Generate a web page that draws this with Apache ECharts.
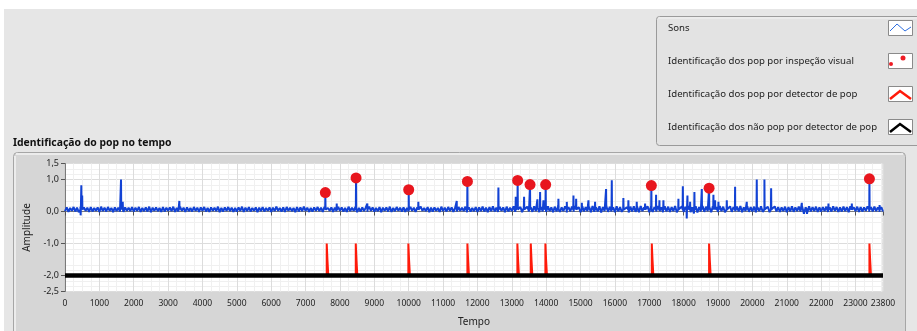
<!DOCTYPE html>
<html>
<head>
<meta charset="utf-8">
<script src="https://cdn.jsdelivr.net/npm/echarts@6/dist/echarts.min.js"></script>
<style>
  html, body { margin: 0; padding: 0; background: #ffffff; }
  #chart { width: 917px; height: 331px; }
</style>
</head>
<body>
<div id="chart"></div>
<script>
// ---- data ----
const seriesNames = [
  'Sons',
  'Identificação dos pop por inspeção visual',
  'Identificação dos pop por detector de pop',
  'Identificação dos não pop por detector de pop'
];

// sound amplitude envelope: lowest and highest reading in each 100-unit window (0 .. 23800)
const sonsStep = 100;
const sonsHigh = [
  0.13,0.11,0.14,0.12,0.15,0.13,0.12,0.14,0.11,0.13,0.15,0.12,0.14,0.11,0.13,0.12,0.15,0.13,0.12,0.14,
  0.12,0.14,0.11,0.13,0.15,0.12,0.13,0.11,0.14,0.12,0.13,0.15,0.11,0.14,0.12,0.13,0.11,0.14,0.12,0.13,
  0.14,0.11,0.13,0.12,0.15,0.11,0.13,0.14,0.12,0.11,0.13,0.15,0.12,0.14,0.11,0.13,0.12,0.14,0.11,0.13,
  0.12,0.15,0.11,0.13,0.14,0.12,0.11,0.14,0.13,0.15,0.12,0.11,0.13,0.14,0.12,0.15,0.11,0.13,0.12,0.14,
  0.13,0.11,0.15,0.12,0.14,0.11,0.13,0.12,0.15,0.13,0.11,0.14,0.12,0.13,0.15,0.11,0.14,0.12,0.13,0.11,
  0.14,0.12,0.13,0.15,0.11,0.14,0.12,0.13,0.11,0.15,0.12,0.14,0.13,0.11,0.14,0.12,0.15,0.13,0.11,0.14,
  0.13,0.15,0.12,0.14,0.16,0.12,0.14,0.13,0.15,0.12,0.16,0.13,0.14,0.12,0.15,0.13,0.16,0.12,0.14,0.15,
  0.16,0.13,0.15,0.17,0.13,0.16,0.14,0.15,0.17,0.13,0.16,0.14,0.15,0.17,0.13,0.16,0.14,0.17,0.15,0.13,
  0.16,0.14,0.17,0.13,0.15,0.16,0.14,0.17,0.13,0.16,0.15,0.14,0.17,0.13,0.16,0.15,0.14,0.17,0.13,0.16,
  0.15,0.17,0.13,0.16,0.14,0.17,0.15,0.13,0.16,0.14,0.17,0.15,0.13,0.16,0.14,0.15,0.17,0.13,0.16,0.14,
  0.15,0.13,0.16,0.14,0.15,0.13,0.16,0.14,0.13,0.15,0.14,0.16,0.13,0.15,0.14,0.13,0.16,0.14,0.15,0.13,
  0.14,0.15,0.13,0.16,0.14,0.13,0.15,0.14,0.16,0.13,0.15,0.14,0.13,0.16,0.14,0.15,0.13,0.14,0.15
];
const sonsLow = [
  0.01,-0.01,0.02,0.00,-0.02,0.01,0.02,-0.01,0.00,0.02,-0.01,0.01,0.00,0.02,-0.02,0.01,0.00,-0.01,0.02,0.01,
  0.00,0.02,-0.01,0.01,0.00,-0.02,0.02,0.01,-0.01,0.00,0.02,0.01,-0.01,0.00,0.02,-0.01,0.01,0.00,0.02,-0.01,
  0.02,0.00,-0.01,0.02,0.01,-0.02,0.00,0.02,0.01,-0.01,0.00,0.02,-0.01,0.01,0.00,0.02,-0.02,0.01,0.00,0.02,
  -0.01,0.01,0.02,0.00,-0.01,0.02,0.01,-0.02,0.00,0.01,0.02,-0.01,0.00,0.02,0.01,-0.01,0.00,0.02,-0.01,0.01,
  0.02,0.00,-0.01,0.01,0.02,-0.02,0.00,0.01,-0.01,0.02,0.00,0.01,-0.02,0.02,0.00,-0.01,0.01,0.02,0.00,-0.01,
  0.01,0.02,-0.01,0.00,0.02,0.01,-0.02,0.00,0.02,-0.01,0.01,0.00,0.02,-0.01,0.00,0.02,0.01,-0.02,0.00,0.01,
  -0.01,0.01,0.00,-0.02,0.01,0.00,-0.01,0.02,-0.02,0.00,0.01,-0.01,0.00,-0.02,0.01,0.00,-0.01,0.01,-0.02,0.00,
  -0.01,0.01,-0.02,0.00,-0.01,0.01,-0.03,0.00,-0.01,0.01,-0.02,0.00,0.01,-0.02,-0.01,0.00,-0.03,0.01,-0.01,0.00,
  -0.02,0.00,-0.01,0.01,-0.03,0.00,-0.01,-0.02,0.01,0.00,-0.02,-0.01,0.00,0.01,-0.02,0.00,-0.01,0.01,-0.02,0.00,
  -0.01,0.00,-0.02,-0.06,-0.03,0.00,-0.01,0.01,-0.02,0.00,-0.01,0.01,-0.02,0.00,-0.01,0.01,0.00,-0.02,0.01,-0.01,
  0.00,-0.02,0.01,-0.01,0.00,-0.02,0.01,0.00,-0.01,0.01,-0.02,0.00,-0.01,0.01,0.00,-0.07,-0.02,0.00,0.01,-0.01,
  0.00,0.01,-0.01,0.00,0.02,-0.01,0.00,0.01,-0.02,0.00,0.01,-0.01,0.00,0.02,-0.01,0.00,0.01,-0.01,0.00
];
// resting level of the sound trace around a short burst
const sonsRest = 0.06;
// short bursts in the sound: [time, amplitude]
const sonsSpikes = [
  [455, -0.12], [475, 0.82], [500, 0.50], [1630, 1.00], [1680, 0.30], [3327, 0.33],
  [7575, 0.50], [7906, 0.25], [8468, 1.05], [8797, 0.25], [10000, 0.68], [10281, 0.30],
  [11398, 0.33], [11708, 0.94], [12610, 0.75], [13115, 0.46], [13170, 0.97], [13357, 0.46],
  [13530, 0.84], [13745, 0.38], [13823, 0.61], [13920, 0.35], [13985, 0.84], [14356, 0.40],
  [14600, 0.30], [14794, 0.50], [14872, 0.40], [15038, 0.27], [15230, 0.35], [15423, 0.30],
  [15743, 0.70], [15909, 0.98], [16246, 0.42], [16392, 0.35], [16635, 0.30], [16878, 0.25],
  [17060, 0.81], [17198, 0.52], [17295, 0.35], [17411, 0.35], [17848, 0.40], [17976, 0.79],
  [18090, -0.22], [18110, 0.50], [18188, 0.30], [18313, 0.61], [18528, 0.70], [18740, 0.73],
  [18866, 0.52], [18915, 0.35], [19012, 0.30], [19255, 0.35], [19497, 0.77], [19836, 0.30],
  [20127, 1.00], [20350, 1.00], [20545, 0.73], [21438, 0.27], [21590, -0.08], [22213, 0.25],
  [22893, 0.25], [23405, 1.02], [23700, 0.20]
];

// pops marked by visual inspection
const popVisualTimes = [7575, 8468, 10000, 11708, 13170, 13530, 13985, 17060, 18740, 23405];
const popVisualAmps  = [0.59, 1.05, 0.68, 0.94, 0.97, 0.84, 0.84, 0.81, 0.73, 1.02];

// pop detector output: pulses starting at these times
const popDetectTimes = [7615, 8460, 9990, 11708, 13162, 13552, 13977, 17073, 18740, 23405];
const detectLevels = { rest: -2.0, high: -1.0, tail: -1.5 };
const detectWidths = { high: 20, tail: 45 };

// non-pop detector output (no detections over the whole record)
const nonPopLevel = -2.0;
const timeRange = [0, 23800];

// axis ticks
const yTickValues = [1.5, 1.0, 0.0, -1.0, -2.0, -2.5];
const xTickValues = [0,1000,2000,3000,4000,5000,6000,7000,8000,9000,10000,11000,12000,
  13000,14000,15000,16000,17000,18000,19000,20000,21000,22000,23000,23800];

// ---- build series data ----
const sonsData = [];
sonsLow.forEach((lo, i) => {
  const t = i * sonsStep;
  sonsData.push([t, lo]);
  if (t + sonsStep / 2 <= timeRange[1]) sonsData.push([t + sonsStep / 2, sonsHigh[i]]);
});
sonsSpikes.forEach(([t, a]) => {
  sonsData.push([t - 6, sonsRest], [t, a], [t + 6, sonsRest]);
});
sonsData.sort((a, b) => a[0] - b[0]);

const visualData = popVisualTimes.map((t, i) => [t, popVisualAmps[i]]);

const detectData = [[timeRange[0], detectLevels.rest]];
popDetectTimes.forEach(t => {
  detectData.push(
    [t, detectLevels.rest], [t, detectLevels.high],
    [t + detectWidths.high, detectLevels.high], [t + detectWidths.high, detectLevels.tail],
    [t + detectWidths.tail, detectLevels.tail], [t + detectWidths.tail, detectLevels.rest]
  );
});
detectData.push([timeRange[1], detectLevels.rest]);

const nonPopData = [[timeRange[0], nonPopLevel], [timeRange[1], nonPopLevel]];

const fmtComma = v => v.toFixed(1).replace('.', ',');
const FONT = 'Noto Sans';

// ---- legend panel drawn as graphics ----
const legendY = [28, 61, 94, 127];
const legendGraphics = [];
legendGraphics.push({
  type: 'rect', shape: { x: 656.5, y: 16.5, width: 270, height: 129, r: 3 },
  style: { fill: '#e3e3e3', stroke: '#9a9a9a', lineWidth: 1 }, z: 1
});
legendGraphics.push({
  type: 'line', shape: { x1: 658, y1: 18, x2: 917, y2: 18 },
  style: { stroke: '#f4f4f4', lineWidth: 1 }, z: 2
});
seriesNames.forEach((name, i) => {
  const cy = legendY[i];
  legendGraphics.push({
    type: 'text', x: 668, y: cy, z: 3,
    style: { text: name, fill: '#222222', font: '9.6px "' + FONT + '"', verticalAlign: 'middle' }
  });
  legendGraphics.push({
    type: 'rect', shape: { x: 888.5, y: cy - 7.5, width: 24, height: 15 },
    style: { fill: '#ffffff', stroke: '#8a8a8a', lineWidth: 1 }, z: 3
  });
});
// icon glyphs
legendGraphics.push({
  type: 'polyline', z: 4,
  shape: { points: [[890, legendY[0] + 3], [897, legendY[0] - 4], [905, legendY[0] + 3], [911, legendY[0] - 1]] },
  style: { stroke: '#2f6fe0', lineWidth: 1, fill: null }
});
legendGraphics.push({ type: 'circle', z: 4, shape: { cx: 891, cy: legendY[1] + 3, r: 2 }, style: { fill: '#ee1c24' } });
legendGraphics.push({ type: 'circle', z: 4, shape: { cx: 903, cy: legendY[1] - 3, r: 2.5 }, style: { fill: '#ee1c24' } });
legendGraphics.push({
  type: 'polyline', z: 4,
  shape: { points: [[890, legendY[2] + 5], [900, legendY[2] - 3], [911, legendY[2] + 5]] },
  style: { stroke: '#ff1a0a', lineWidth: 2.5, fill: null }
});
legendGraphics.push({
  type: 'polyline', z: 4,
  shape: { points: [[890, legendY[3] + 5], [900, legendY[3] - 3], [911, legendY[3] + 5]] },
  style: { stroke: '#000000', lineWidth: 2.5, fill: null }
});

// ---- page panels ----
const panelGraphics = [
  { type: 'rect', shape: { x: 4, y: 9, width: 913, height: 322 }, style: { fill: '#e6e6e6' }, z: -10, silent: true },
  { type: 'rect', shape: { x: 13.5, y: 152.5, width: 892, height: 190, r: 4 },
    style: { fill: '#d6d6d6', stroke: '#a6a6a6', lineWidth: 1 }, z: -9, silent: true },
  { type: 'line', shape: { x1: 16, y1: 154, x2: 903, y2: 154 }, style: { stroke: '#ececec', lineWidth: 2 }, z: -8 },
  { type: 'line', shape: { x1: 15, y1: 156, x2: 15, y2: 331 }, style: { stroke: '#ececec', lineWidth: 2 }, z: -8 },
  { type: 'text', x: 13, y: 143, z: 3,
    style: { text: 'Identificação do pop no tempo', fill: '#111111',
             font: 'bold 10.4px "' + FONT + '"', verticalAlign: 'middle' } }
];

const chart = echarts.init(document.getElementById('chart'), null, { renderer: 'canvas' });
chart.setOption({
  animation: false,
  backgroundColor: '#ffffff',
  textStyle: { fontFamily: FONT },
  grid: {
    left: 65, right: 34, top: 163.5, bottom: 39.5,
    show: true, backgroundColor: '#ffffff', borderColor: '#c8c8c8', borderWidth: 1
  },
  graphic: panelGraphics.concat(legendGraphics),
  xAxis: {
    type: 'value', min: timeRange[0], max: timeRange[1], interval: 1000,
    name: 'Tempo', nameLocation: 'middle', nameGap: 26,
    nameTextStyle: { color: '#222', fontSize: 10, fontFamily: FONT },
    axisLine: { show: true, lineStyle: { color: '#7a7a7a' } },
    axisTick: { show: true, length: 4, lineStyle: { color: '#555' }, customValues: xTickValues },
    axisLabel: { color: '#222', fontSize: 8.5, margin: 8, fontFamily: FONT,
                 showMinLabel: true, showMaxLabel: true, hideOverlap: false,
                 customValues: xTickValues, formatter: v => String(v) },
    splitLine: { show: true, lineStyle: { color: '#dcdcdc', width: 1 } },
    minorTick: { show: false, splitNumber: 4 },
    minorSplitLine: { show: true, lineStyle: { color: '#f0f0f0', width: 1 } }
  },
  yAxis: {
    type: 'value', min: -2.5, max: 1.5, interval: 0.5,
    name: 'Amplitude', nameLocation: 'middle', nameGap: 31, nameRotate: 90,
    nameTextStyle: { color: '#222', fontSize: 10, fontFamily: FONT },
    axisLine: { show: true, lineStyle: { color: '#7a7a7a' } },
    axisTick: { show: true, length: 4, lineStyle: { color: '#555' }, customValues: yTickValues },
    axisLabel: { color: '#222', fontSize: 9, margin: 6, fontFamily: FONT,
                 showMinLabel: true, showMaxLabel: true,
                 customValues: yTickValues, formatter: v => fmtComma(v) },
    splitLine: { show: true, lineStyle: { color: '#dcdcdc', width: 1 } },
    minorTick: { show: false, splitNumber: 3 },
    minorSplitLine: { show: true, lineStyle: { color: '#f0f0f0', width: 1 } }
  },
  series: [
    {
      name: seriesNames[0], type: 'line', data: sonsData, showSymbol: false,
      lineStyle: { color: '#1242d4', width: 2 }, itemStyle: { color: '#1242d4' },
      z: 2, silent: true
    },
    {
      name: seriesNames[2], type: 'line', data: detectData, showSymbol: false,
      lineStyle: { color: '#ff1a0a', width: 2 }, itemStyle: { color: '#ff1a0a' },
      z: 3, silent: true
    },
    {
      name: seriesNames[3], type: 'line', data: nonPopData, showSymbol: false,
      lineStyle: { color: '#000000', width: 4.5 }, itemStyle: { color: '#000000' },
      z: 4, silent: true
    },
    {
      name: seriesNames[1], type: 'scatter', data: visualData, symbol: 'circle', symbolSize: 11,
      itemStyle: { color: '#e8161e', opacity: 1 }, z: 5, silent: true
    }
  ]
});
</script>
</body>
</html>
